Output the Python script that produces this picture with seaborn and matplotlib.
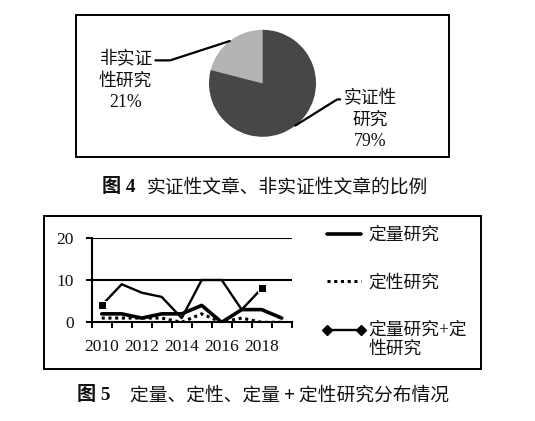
import numpy as np
import pandas as pd
import matplotlib
matplotlib.use("Agg")
import matplotlib.pyplot as plt
import seaborn as sns
from matplotlib.lines import Line2D
from matplotlib.font_manager import FontProperties

# ---------------- data ----------------
pie_labels = ["非实证\n性研究", "实证性\n研究"]
pie_values = [21, 79]
pie_colors = ["#b3b3b3", "#474747"]

years = [2010, 2011, 2012, 2013, 2014, 2015, 2016, 2017, 2018, 2019]
quant = [2, 2, 1, 2, 2, 4, 0, 3, 3, 1]          # 定量研究
qual = [1, 1, 1, 1, 0, 2, 0, 1, 0, 0]           # 定性研究
mixed_years = [2010, 2011, 2012, 2013, 2014, 2015, 2016, 2017, 2018]
mixed = [4, 9, 7, 6, 1, 10, 10, 3, 8]           # 定量研究+定性研究
series_names = ["定量研究", "定性研究", "定量研究+定\n性研究"]
year_ticks = [2010, 2012, 2014, 2016, 2018]
y_ticks = [0, 10, 20]

cap4_num = "图 4"
cap4_text = "实证性文章、非实证性文章的比例"
cap5_num = "图 5"
cap5_text = "定量、定性、定量 + 定性研究分布情况"

# ---------------- style ----------------
sns.set_theme(style="white")
plt.rcParams['font.family'] = ['Liberation Serif', 'Noto Sans CJK SC']
plt.rcParams['axes.unicode_minus'] = False

W, H = 535, 421
fig = plt.figure(figsize=(W / 100, H / 100), dpi=100)
fig.patch.set_facecolor("white")


def px_axes(l, t, r, b, **kw):
    return fig.add_axes([l / W, 1 - b / H, (r - l) / W, (b - t) / H], **kw)


cjk = FontProperties(family=['Liberation Serif', 'Noto Sans CJK SC'], size=12.8)

# ---------------- Figure 4 : pie ----------------
box_l, box_t, box_r, box_b = 76, 15, 449.3, 156.7
cx, cy, R = 262.5, 83.3, 53.5
axp = px_axes(box_l, box_t, box_r, box_b)
wedges, _ = axp.pie(pie_values, colors=pie_colors, startangle=90,
                    counterclock=True, radius=1, center=(0, 0),
                    wedgeprops=dict(linewidth=0))
axp.set_aspect('auto')
axp.set_xlim(-(cx - box_l) / R, (box_r - cx) / R)
axp.set_ylim(-(box_b - cy) / R, (cy - box_t) / R)
axp.set_frame_on(True)
axp.set_xticks([])
axp.set_yticks([])
for s in axp.spines.values():
    s.set_visible(True)
    s.set_color("black")
    s.set_linewidth(1.4)

label_texts = [f"{lab}\n{v}%" for lab, v in zip(pie_labels, pie_values)]
text_pos = [(-2.56, 0.04), (2.01, -0.69)]
relpos = [(1.0, 0.85), (0.0, 0.85)]
angB = [18, 32]
for w, txt, pos, rp, ab in zip(wedges, label_texts, text_pos, relpos, angB):
    mid = np.deg2rad((w.theta1 + w.theta2) / 2)
    xy = (np.cos(mid), np.sin(mid))
    axp.annotate(txt, xy=xy, xytext=pos, textcoords='data',
                 ha='center', va='center', fontproperties=cjk,
                 linespacing=1.32, color='#111111',
                 arrowprops=dict(arrowstyle='-', color='black', lw=1.6,
                                 shrinkA=0, shrinkB=0, relpos=rp,
                                 connectionstyle=f"angle,angleA=0,angleB={ab},rad=0"))

fig.text(101.7 / W, 1 - 187 / H, cap4_num, ha='left', va='center',
         family=['Liberation Serif', 'Noto Sans CJK SC'], weight='bold',
         size=13.8, color='#111111')
fig.text(146.7 / W, 1 - 187 / H, cap4_text, ha='left', va='center',
         family=['Noto Sans CJK SC'], size=13.5, color='#111111')

# ---------------- Figure 5 : lines ----------------
axb = px_axes(44.3, 216, 481, 369.3)
axb.set_xticks([])
axb.set_yticks([])
for s in axb.spines.values():
    s.set_visible(True)
    s.set_color("black")
    s.set_linewidth(1.4)

ax = px_axes(91.7, 237.7, 291.7, 322.3)
ax.set_facecolor("none")
sns.lineplot(x=years, y=quant, ax=ax, color='black', lw=2.6, legend=False)
sns.lineplot(x=years, y=qual, ax=ax, color='black', lw=2.2,
             linestyle=(0, (1, 1.2)), legend=False)
sns.lineplot(x=mixed_years, y=mixed, ax=ax, color='black', lw=1.7,
             marker='s', markersize=6, markevery=[0, len(mixed) - 1],
             legend=False)

ax.set_xlim(years[0] - 0.5, years[-1] + 0.5)
ax.set_ylim(y_ticks[0], y_ticks[-1])
ax.set_xticks(np.arange(years[0] - 0.5, years[-1] + 1, 1))
ax.set_xticklabels([])
ax.set_xticks(year_ticks, minor=True)
ax.set_xticklabels([str(y) for y in year_ticks], minor=True)
ax.set_yticks(y_ticks)
ax.set_yticklabels([str(v) for v in y_ticks])
ax.tick_params(axis='x', which='major', direction='out', length=4.5,
               width=1.4, color='black', bottom=True)
ax.tick_params(axis='x', which='minor', length=0, pad=12, labelsize=12.5,
               bottom=True)
ax.tick_params(axis='y', direction='out', length=4, width=1.4,
               color='black', pad=9, labelsize=12.5, left=True)
ax.set_xlabel("")
ax.set_ylabel("")
ax.grid(False)
for yv in y_ticks[1:]:
    ax.axhline(yv, color='black', lw=1.5, zorder=1)
for side in ['top', 'right']:
    ax.spines[side].set_visible(False)
for side in ['left', 'bottom']:
    ax.spines[side].set_visible(True)
    ax.spines[side].set_color('black')
    ax.spines[side].set_linewidth(1.5)
for lab in ax.get_xticklabels(minor=True) + ax.get_yticklabels():
    lab.set_color('#111111')

handles = [
    Line2D([], [], color='black', lw=2.6),
    Line2D([], [], color='black', lw=2.2, linestyle=(0, (1, 1.2))),
    Line2D([], [], color='black', lw=1.7, marker='D', markersize=5.5),
]
leg = fig.legend(handles, series_names, loc='upper left',
                 bbox_to_anchor=(321.7 / W, 1 - 227 / H), frameon=False,
                 prop=cjk, handlelength=2.5, handletextpad=0.15,
                 labelspacing=1.7, borderaxespad=0, borderpad=0, numpoints=2)
for t in leg.get_texts():
    t.set_color('#111111')
# align the third handle with the first line of its two-line label
h3 = leg.legend_handles[2]
h3.set_ydata(np.asarray(h3.get_ydata()) + 7.5)

fig.text(76.7 / W, 1 - 395 / H, cap5_num, ha='left', va='center',
         family=['Liberation Serif', 'Noto Sans CJK SC'], weight='bold',
         size=13.8, color='#111111')
fig.text(130 / W, 1 - 395 / H, cap5_text, ha='left', va='center',
         family=['Noto Sans CJK SC'], size=13.5, color='#111111')

fig.savefig("out.png", dpi=100, facecolor="white")
